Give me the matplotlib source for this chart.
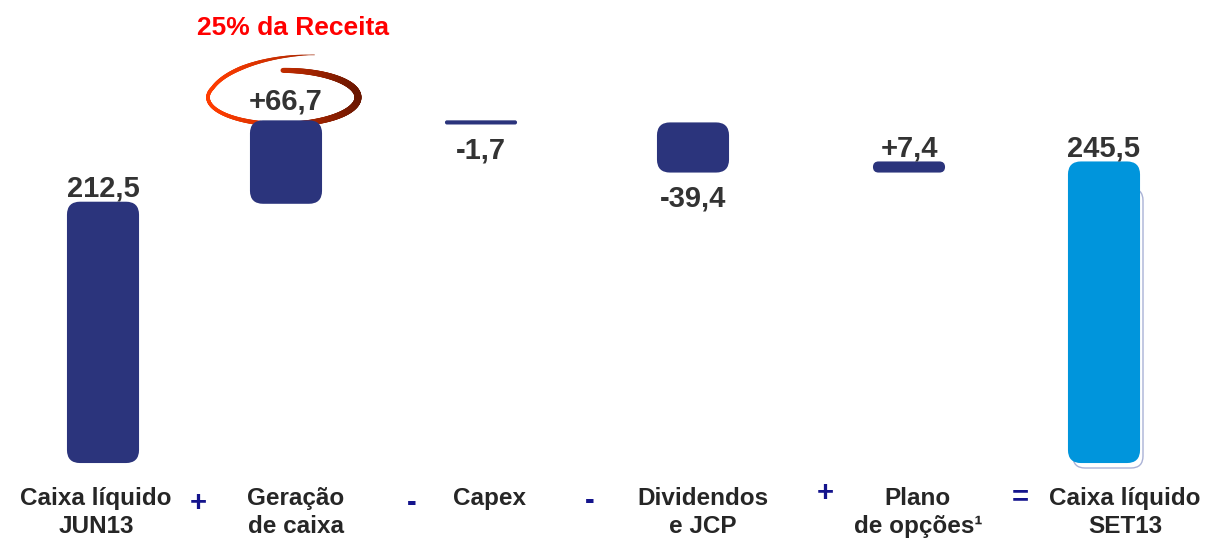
import matplotlib
matplotlib.use('Agg')
import matplotlib.pyplot as plt
from matplotlib.patches import FancyBboxPatch
from matplotlib.collections import LineCollection
import matplotlib.colors as mcolors
import numpy as np

# data
categories = ['Caixa líquido\nJUN13', 'Geração\nde caixa', 'Capex',
              'Dividendos\ne JCP', 'Plano\nde opções¹', 'Caixa líquido\nSET13']
values = [212.5, 66.7, -1.7, -39.4, 7.4, 245.5]
value_labels = ['212,5', '+66,7', '-1,7', '-39,4', '+7,4', '245,5']
kinds = ['total', 'delta', 'delta', 'delta', 'delta', 'total']
operators = ['+', '-', '-', '+', '=']
highlight = '25% da Receita'

# layout (pixels, figure is 1212x542)
xpos = [103, 286, 481, 693, 909, 1104]
label_x = [96, 296, 489, 703, 918, 1125]
op_x = [198, 412, 590, 825, 1020]
op_y = [503, 503, 501, 493, 497]
bar_w = 70
PX = 1.22          # pixels per unit
base_px = 462      # pixel row of zero
navy = '#2B347C'
light = '#0095DC'
txt = '#333333'
font = 'Liberation Sans'


def ydata(py):
    return (base_px - py) / PX


fig = plt.figure(figsize=(12.12, 5.42), dpi=100)
ax = fig.add_axes([0, 0, 1, 1])
ax.set_xlim(0, 1212)
ax.set_ylim(ydata(542), ydata(0))
ax.axis('off')

running = 0
tops, bottoms = [], []
for v, k in zip(values, kinds):
    if k == 'total':
        b, t = 0, v
        running = v
    else:
        b, t = min(running, running + v), max(running, running + v)
        running += v
    bottoms.append(b)
    tops.append(t)

for i, (x, b, t) in enumerate(zip(xpos, bottoms, tops)):
    h = t - b
    r = min(12, h * PX / 2)
    color = light if i == len(xpos) - 1 else navy
    if i == len(xpos) - 1:
        sh = FancyBboxPatch((x - bar_w / 2 + 4, b - 6 / PX), bar_w, h - 20 / PX,
                            boxstyle=f"round,pad=0,rounding_size={r}",
                            mutation_aspect=1 / PX, fc='none', ec='#aab2d6',
                            lw=1.0, zorder=1)
        ax.add_patch(sh)
    p = FancyBboxPatch((x - bar_w / 2, b), bar_w, h,
                       boxstyle=f"round,pad=0,rounding_size={r}",
                       mutation_aspect=1 / PX, fc=color, ec=color, lw=1.5, zorder=2)
    ax.add_patch(p)

    v = values[i]
    if v >= 0:
        lift = 12 if i == 1 else 6
        ax.annotate(value_labels[i], (x, t), xytext=(0, lift), textcoords='offset pixels',
                    ha='center', va='baseline', fontsize=21, fontweight='bold',
                    color=txt, family=font, zorder=4)
    else:
        ax.annotate(value_labels[i], (x, b), xytext=(0, -13), textcoords='offset pixels',
                    ha='center', va='top', fontsize=21, fontweight='bold',
                    color=txt, family=font, zorder=4)

# category labels
for lx, c in zip(label_x, categories):
    ax.text(lx, ydata(487), c, ha='center', va='top', fontsize=17.5,
            fontweight='bold', color='#262626', family=font, linespacing=1.3)

for ox, oy, o in zip(op_x, op_y, operators):
    ax.text(ox, ydata(oy), o, ha='center', va='center', fontsize=21,
            fontweight='bold', color='#14148C', family=font)

# highlight ellipse around the cash generation label
cx, cy = xpos[1] - 3, tops[1] + 24 / PX
a, bb = 75, 27
th = np.radians(np.linspace(90, -295, 400))
extra = np.clip((np.degrees(-th) - 200) / 95, 0, 1) * 18
ex = cx + a * np.cos(th)
ey = cy + (bb * np.sin(th) + extra) / PX
pts = np.column_stack([ex, ey]).reshape(-1, 1, 2)
segs = np.concatenate([pts[:-1], pts[1:]], axis=1)
s = ((np.cos(th[:-1]) + 1) / 2) ** 1.3
c0 = np.array(mcolors.to_rgb('#FF3C00'))
c1 = np.array(mcolors.to_rgb('#6A1600'))
cols = c0 * (1 - s[:, None]) + c1 * s[:, None]
lw = 2.6 + 2.4 * s
taper = np.clip((295 + np.degrees(th[:-1])) / 60, 0.1, 1)
lw = lw * taper
ax.add_collection(LineCollection(segs, colors=cols, linewidths=lw,
                                 capstyle='round', zorder=1.5))

ax.text(xpos[1] + 7, ydata(28), highlight, ha='center', va='center', fontsize=19,
        fontweight='bold', color='#FF0000', family=font)

fig.savefig('out.png', dpi=100)
